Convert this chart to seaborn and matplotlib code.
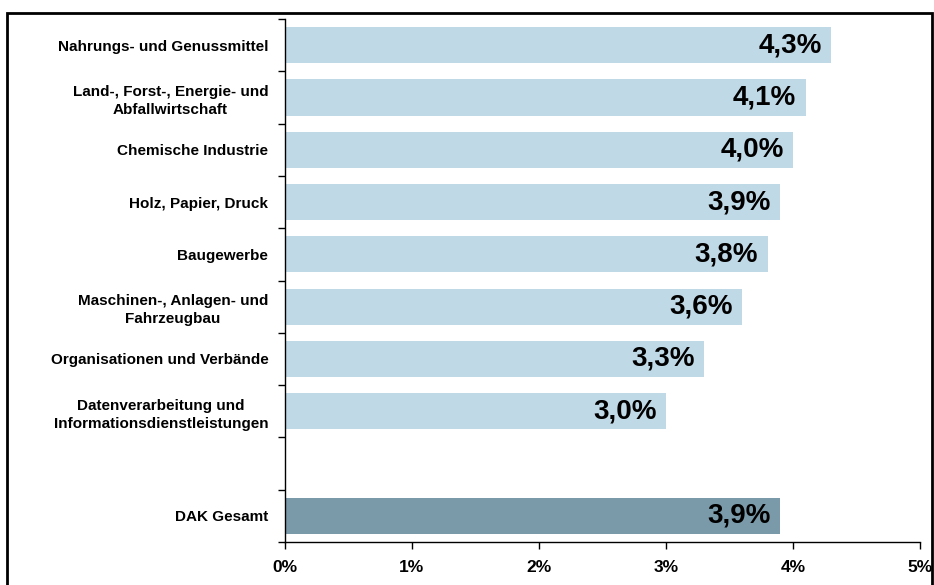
import matplotlib
matplotlib.use("Agg")
import matplotlib.pyplot as plt
from matplotlib.patches import Rectangle
from matplotlib.ticker import FixedLocator, MultipleLocator, FuncFormatter
import seaborn as sns
import pandas as pd

# Branchen und Krankenstand in Prozent
branchen = [
    "Nahrungs- und Genussmittel",
    "Land-, Forst-, Energie- und\nAbfallwirtschaft",
    "Chemische Industrie",
    "Holz, Papier, Druck",
    "Baugewerbe",
    "Maschinen-, Anlagen- und\nFahrzeugbau",
    "Organisationen und Verbände",
    "Datenverarbeitung und\nInformationsdienstleistungen",
]
werte = [4.3, 4.1, 4.0, 3.9, 3.8, 3.6, 3.3, 3.0]
gesamt_name = "DAK Gesamt"
gesamt_wert = 3.9

farbe_branche = "#C0D9E6"
farbe_gesamt = "#7A9AAA"

df = pd.DataFrame({
    "kategorie": branchen + [gesamt_name],
    "wert": werte + [gesamt_wert],
})
reihenfolge = branchen + [" "] + [gesamt_name]
palette = {k: farbe_branche for k in branchen}
palette[gesamt_name] = farbe_gesamt

sns.set_theme(style="white")
plt.rcParams["font.family"] = ["Liberation Sans", "DejaVu Sans"]
plt.rcParams["text.color"] = "black"
plt.rcParams["xtick.color"] = "black"
plt.rcParams["ytick.color"] = "black"

fig = plt.figure(figsize=(9.34, 5.85), dpi=100)
ax = fig.add_axes([0.3051, 0.0735, 0.680, 0.894])

sns.barplot(data=df, x="wert", y="kategorie", hue="kategorie", order=reihenfolge,
            hue_order=branchen + [gesamt_name], palette=palette, legend=False,
            orient="h", width=0.69, saturation=1, ax=ax, edgecolor="none")

ax.set_xlim(0, 5)
ax.set_ylim(len(reihenfolge) - 0.5, -0.5)
ax.set_xlabel("")
ax.set_ylabel("")

# Werte rechtsbündig im Balkenende
for i, kat in enumerate(reihenfolge):
    sub = df[df["kategorie"] == kat]
    if sub.empty:
        continue
    v = float(sub["wert"].iloc[0])
    ax.text(v - 0.075, i, f"{v:.1f}%".replace(".", ","), ha="right", va="center",
            fontsize=20, fontweight="bold", color="black")

# Achsen und Ticks
for s in ["top", "right"]:
    ax.spines[s].set_visible(False)
for s in ["left", "bottom"]:
    ax.spines[s].set_visible(True)
    ax.spines[s].set_color("black")
    ax.spines[s].set_linewidth(1.0)

ax.xaxis.set_major_locator(MultipleLocator(1))
ax.xaxis.set_major_formatter(FuncFormatter(lambda x, p: f"{int(round(x))}%"))
ax.tick_params(axis="x", which="major", direction="out", length=5, width=1,
               color="black", labelcolor="black", labelsize=12.5, pad=8, bottom=True)
for lab in ax.get_xticklabels():
    lab.set_fontweight("bold")

ax.yaxis.set_minor_locator(FixedLocator([i - 0.5 for i in range(len(reihenfolge) + 1)]))
ax.tick_params(axis="y", which="major", length=0, labelsize=11, labelcolor="black", pad=12)
ax.tick_params(axis="y", which="minor", direction="out", length=5, width=1,
               color="black", left=True)
for lab in ax.get_yticklabels():
    lab.set_fontweight("bold")
    lab.set_multialignment("center")
    lab.set_linespacing(1.35)

# Rahmen um die gesamte Grafik
fig.patches.append(Rectangle((7 / 934, -0.02), 925 / 934, 1.02 - 13 / 585,
                             transform=fig.transFigure, fill=False,
                             edgecolor="black", linewidth=2))

fig.savefig("out.png", dpi=100)
